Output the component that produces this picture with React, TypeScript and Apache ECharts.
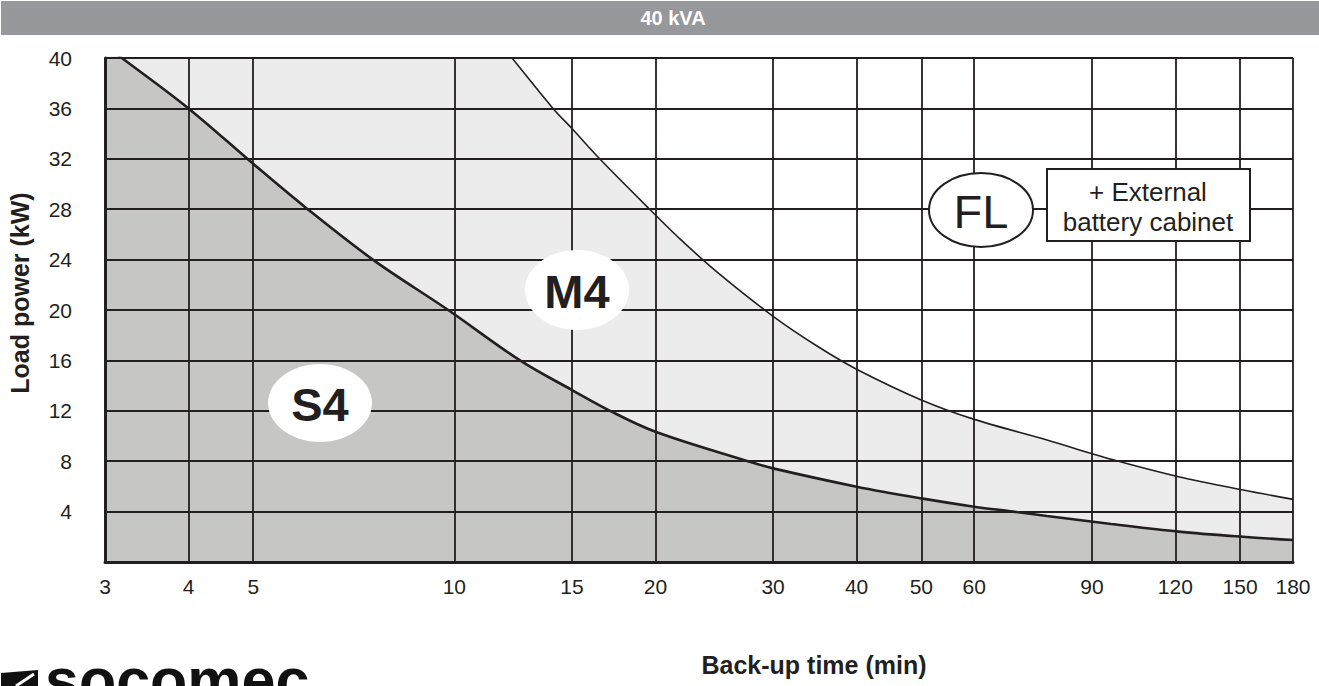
import React, { useEffect, useRef } from "react";
import * as echarts from "echarts";

// ---- data ----
const xTickValues = [3, 4, 5, 10, 15, 20, 30, 40, 50, 60, 90, 120, 150, 180];

// S4 / M4 boundary (back-up time in min, load power in kW); the first point lies just above the 40 kW frame
const s4Times = [3, 3.18, 4, 5, 6, 7.55, 9.79, 12.54, 15, 17.1, 20, 27.5, 30, 40, 50, 60, 68.6, 77.1, 96.2, 121.3, 151.5, 180];
const s4Power = [41.0, 40, 36, 31.6, 28.1, 24, 20, 16, 13.65, 12, 10.34, 8, 7.43, 5.98, 5.05, 4.39, 4.0, 3.65, 3.02, 2.41, 2.0, 1.75];

// M4 / FL boundary; the first two points lie above the 40 kW frame (clipped)
const m4Times = [3, 11.0, 12.2, 14.05, 15, 16.5, 19.6, 21.8, 25, 30, 35, 40, 50, 60, 77.1, 96.2, 121.3, 151.5, 180];
const m4Power = [42.9, 42.9, 40, 36, 34.4, 32, 28, 25.6, 22.8, 19.5, 17.1, 15.3, 12.86, 11.32, 9.68, 8.15, 6.77, 5.71, 4.97];

const title = "40 kVA";
const xName = "Back-up time (min)";
const yName = "Load power (kW)";

const INK = "#231f20";
const FONT = '"Liberation Sans", Arial, Helvetica, sans-serif';

export default function App() {
  const ref = useRef<HTMLDivElement>(null);

  useEffect(() => {
    if (!ref.current) return;
    const chart = echarts.init(ref.current, undefined, { renderer: "svg" });

    const txt = (
      text: string,
      x: number,
      y: number,
      font: string,
      fill = INK,
      extra: any = {}
    ) => ({
      type: "text",
      x,
      y,
      z: 100,
      ...extra,
      style: {
        text,
        fill,
        font,
        align: "center",
        verticalAlign: "middle",
        textAlign: "center",
        textVerticalAlign: "middle",
      },
    });

    const option: any = {
      animation: false,
      backgroundColor: "#ffffff",
      grid: { left: 105, top: 58, width: 1188, height: 504 },
      xAxis: {
        type: "log",
        logBase: 10,
        min: 3,
        max: 180,
        z: 3,
        axisLine: { show: true, onZero: false, lineStyle: { color: INK, width: 3 } },
        axisTick: { show: false, customValues: xTickValues },
        minorTick: { show: false },
        minorSplitLine: { show: false },
        axisLabel: {
          customValues: xTickValues,
          fontSize: 21,
          fontFamily: FONT,
          color: INK,
          margin: 14,
          formatter: (v: number) => String(Math.round(v)),
        },
        splitLine: { show: true, lineStyle: { color: INK, width: 1.8 } },
      },
      yAxis: {
        type: "value",
        min: 0,
        max: 40,
        interval: 4,
        z: 3,
        axisLine: { show: true, onZero: false, lineStyle: { color: INK, width: 3 } },
        axisTick: { show: false },
        axisLabel: {
          fontSize: 21,
          fontFamily: FONT,
          color: INK,
          margin: 33,
          padding: [6, 0, 0, 0],
          formatter: (v: number) => (v === 0 ? "" : String(v)),
        },
        splitLine: { show: true, lineStyle: { color: INK, width: 1.8 } },
      },
      series: [
        {
          type: "line",
          name: "M4",
          data: m4Times.map((t, i) => [t, m4Power[i]]),
          smooth: 0.3,
          symbol: "none",
          lineStyle: { color: INK, width: 1.6 },
          areaStyle: { color: "#ececec", opacity: 1 },
          z: 1,
        },
        {
          type: "line",
          name: "S4",
          data: s4Times.map((t, i) => [t, s4Power[i]]),
          smooth: 0.35,
          symbol: "none",
          lineStyle: { color: INK, width: 2.6 },
          areaStyle: { color: "#c6c6c5", opacity: 1 },
          z: 2,
        },
      ],
      graphic: [
        // title band
        { type: "rect", z: 100, shape: { x: 1, y: 1, width: 1318, height: 34 }, style: { fill: "#97989b" } },
        txt(title, 673, 18, `bold 20px ${FONT}`, "#ffffff"),
        // region labels
        { type: "ellipse", z: 100, shape: { cx: 320, cy: 403, rx: 52, ry: 39 }, style: { fill: "#ffffff" } },
        txt("S4", 320, 404, `bold 47px ${FONT}`),
        { type: "ellipse", z: 100, shape: { cx: 577, cy: 290, rx: 52, ry: 40 }, style: { fill: "#ffffff" } },
        txt("M4", 577, 291, `bold 47px ${FONT}`),
        {
          type: "ellipse",
          z: 100,
          shape: { cx: 981, cy: 210, rx: 52, ry: 37 },
          style: { fill: "#ffffff", stroke: INK, lineWidth: 2 },
        },
        txt("FL", 981, 211, `47px ${FONT}`),
        {
          type: "rect",
          z: 100,
          shape: { x: 1047, y: 169, width: 203, height: 72 },
          style: { fill: "#ffffff", stroke: INK, lineWidth: 2 },
        },
        txt("+ External", 1148, 192, `26px ${FONT}`),
        txt("battery cabinet", 1148, 222, `26px ${FONT}`),
        // axis names
        txt(xName, 814, 665, `bold 25px ${FONT}`),
        txt(yName, 20, 293, `bold 25px ${FONT}`, INK, { rotation: Math.PI / 2 }),
        // logo (cut by the bottom edge, as in the reference)
        {
          type: "polygon",
          z: 100,
          shape: { points: [[1, 673], [38, 670], [38, 686], [1, 686]] },
          style: { fill: "#111111" },
        },
        {
          type: "line",
          z: 101,
          shape: { x1: 16, y1: 686, x2: 34, y2: 674 },
          style: { stroke: "#ffffff", lineWidth: 3 },
        },
        {
          type: "text",
          z: 100,
          x: 45,
          y: 680,
          style: {
            text: "socomec",
            fill: "#111111",
            font: `bold 61px ${FONT}`,
            align: "left",
            verticalAlign: "middle",
            textAlign: "left",
            textVerticalAlign: "middle",
          },
        },
      ],
    };

    chart.setOption(option);
    return () => chart.dispose();
  }, []);

  return (
    <div
      ref={ref}
      style={{ position: "fixed", left: 0, top: 0, width: 1319, height: 686 }}
    />
  );
}
